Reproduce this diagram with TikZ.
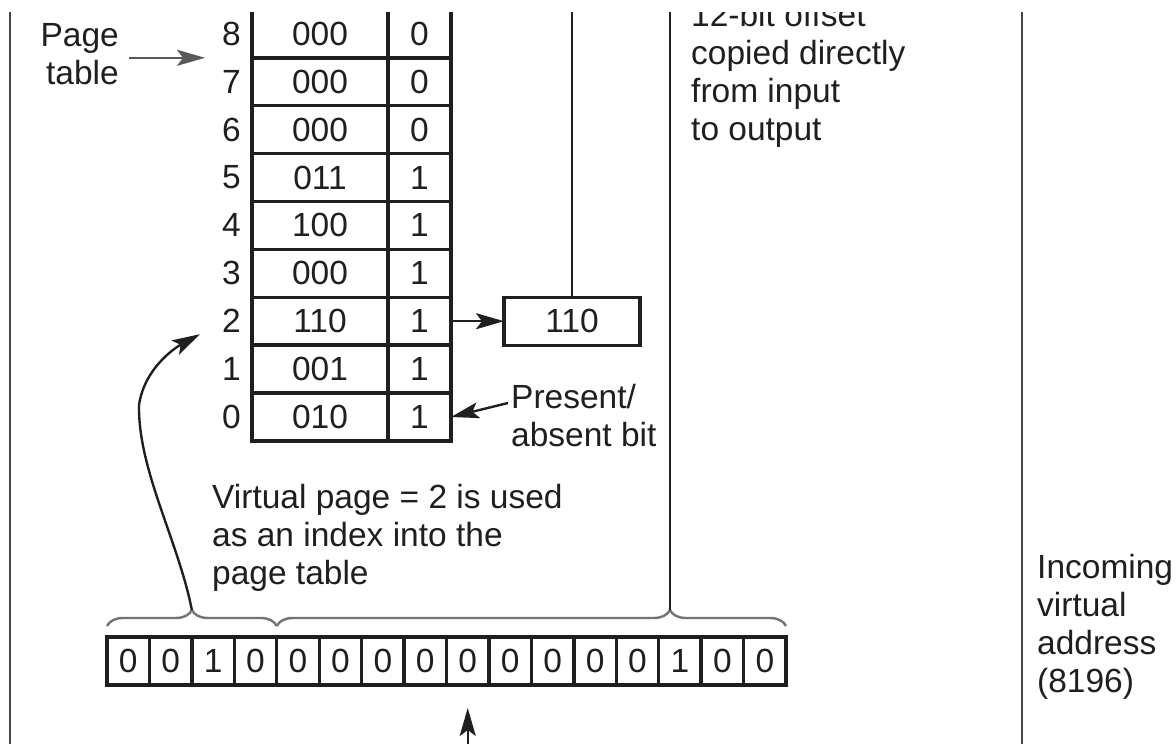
\documentclass[tikz,border=0pt]{standalone}
\usepackage{fontspec}
\setmainfont{Liberation Sans}
\usetikzlibrary{arrows.meta,decorations.pathreplacing}
\colorlet{ink}{black!88}
\colorlet{rulegray}{black!72}
\tikzset{
  cell/.style={draw=ink, line width=3.4pt, inner sep=0pt, outer sep=0pt, minimum height=48pt},
  frame/.style={cell, minimum width=136pt},
  pbit/.style={cell, minimum width=63pt},
  abit/.style={cell, minimum width=42.44pt},
  rowlab/.style={anchor=east, inner sep=0pt},
  note/.style={align=left, anchor=north west, inner sep=0pt},
  arr/.style={-{Stealth[length=28pt,width=16pt,inset=6pt]}, line width=2.4pt, draw=ink},
  vline/.style={line width=2.8pt, draw=rulegray},
  brc/.style={decorate, decoration={brace, amplitude=16pt, aspect=0.5}, line width=2.4pt, draw=black!55}
}

\begin{document}
\begin{tikzpicture}[x=1pt, y=-1pt, font=\fontsize{33.5}{38}\selectfont, text=ink]
\useasboundingbox (0,0) rectangle (1176,744);
\clip (0,12) rectangle (1176,744);
\coordinate (top) at (0,0);

% outer rules
\draw[vline] (10,0) -- (10,744);
\draw[vline] (1022,0) -- (1022,744);

% page table
\node[rowlab] (l8) at (241,33.8) {8};  \node[frame] (f8) at (320,33.8) {000};  \node[pbit] (p8) at (419.5,33.8) {0};
\node[rowlab] (l7) at (241,81.7) {7};  \node[frame] (f7) at (320,81.7) {000};  \node[pbit] (p7) at (419.5,81.7) {0};
\node[rowlab] (l6) at (241,129.6) {6}; \node[frame] (f6) at (320,129.6) {000}; \node[pbit] (p6) at (419.5,129.6) {0};
\node[rowlab] (l5) at (241,177.5) {5}; \node[frame] (f5) at (320,177.5) {011}; \node[pbit] (p5) at (419.5,177.5) {1};
\node[rowlab] (l4) at (241,225.4) {4}; \node[frame] (f4) at (320,225.4) {100}; \node[pbit] (p4) at (419.5,225.4) {1};
\node[rowlab] (l3) at (241,273.3) {3}; \node[frame] (f3) at (320,273.3) {000}; \node[pbit] (p3) at (419.5,273.3) {1};
\node[rowlab] (l2) at (241,321.2) {2}; \node[frame] (f2) at (320,321.2) {110}; \node[pbit] (p2) at (419.5,321.2) {1};
\node[rowlab] (l1) at (241,369.1) {1}; \node[frame] (f1) at (320,369.1) {001}; \node[pbit] (p1) at (419.5,369.1) {1};
\node[rowlab] (l0) at (241,417) {0};   \node[frame] (f0) at (320,417) {010};   \node[pbit] (p0) at (419.5,417) {1};

\node[note, align=right, anchor=north east] (ptab) at (119,23) {Page\\table};
\draw[arr, draw=black!65] ([xshift=10pt]ptab.east |- f8.south) -- ([xshift=-47pt]f8.south west);

% outgoing frame
\node[frame] (pf) at (572,321.2) {110};
\draw[arr] (p2.east) -- (pf.west);
\draw[vline, draw=ink] (pf.north) -- (pf.north |- top);

\node[note] (pres) at (511,384) {Present/\\absent bit};
\draw[arr] ([shift={(-3pt,-19pt)}]pres.north west) -- (p0.east);

\node[note] (offs) at (691,1.6) {12-bit offset\\copied directly\\from input\\to output};
\node[note] (vpg) at (212,484) {Virtual page = 2 is used\\as an index into the\\page table};
\node[note] (inc) at (1037,554) {Incoming\\virtual\\address\\(8196)};

% incoming address
\node[abit] (b0) at (128.22,661) {0};  \node[abit] (b1) at (170.66,661) {0};
\node[abit] (b2) at (213.10,661) {1};  \node[abit] (b3) at (255.54,661) {0};
\node[abit] (b4) at (297.98,661) {0};  \node[abit] (b5) at (340.42,661) {0};
\node[abit] (b6) at (382.86,661) {0};  \node[abit] (b7) at (425.30,661) {0};
\node[abit] (b8) at (467.74,661) {0};  \node[abit] (b9) at (510.18,661) {0};
\node[abit] (b10) at (552.62,661) {0}; \node[abit] (b11) at (595.06,661) {0};
\node[abit] (b12) at (637.50,661) {0}; \node[abit] (b13) at (679.94,661) {1};
\node[abit] (b14) at (722.38,661) {0}; \node[abit] (b15) at (764.82,661) {0};

\draw[brc] ([yshift=11pt]b0.north west) -- ([yshift=11pt]b3.north east);
\draw[brc, decoration={aspect=0.772}] ([yshift=11pt]b4.north west) -- ([yshift=11pt]b15.north east);

\coordinate (pagetip) at ([yshift=27pt]b1.north east);
\coordinate (offtip) at (670,610);
\coordinate (idx) at ([shift={(-22pt,-13pt)}]l2.west);
\coordinate (inbot) at (467.74,760);

\draw[arr] (pagetip) .. controls (178,540) and (138,470) .. (139,405) .. controls (145,365) and (180,345) .. (idx);
\draw[vline, draw=ink] (offtip) -- (offtip |- top);
\draw[arr] (inbot) -- ([yshift=-23pt]b8.south);
\end{tikzpicture}
\end{document}
